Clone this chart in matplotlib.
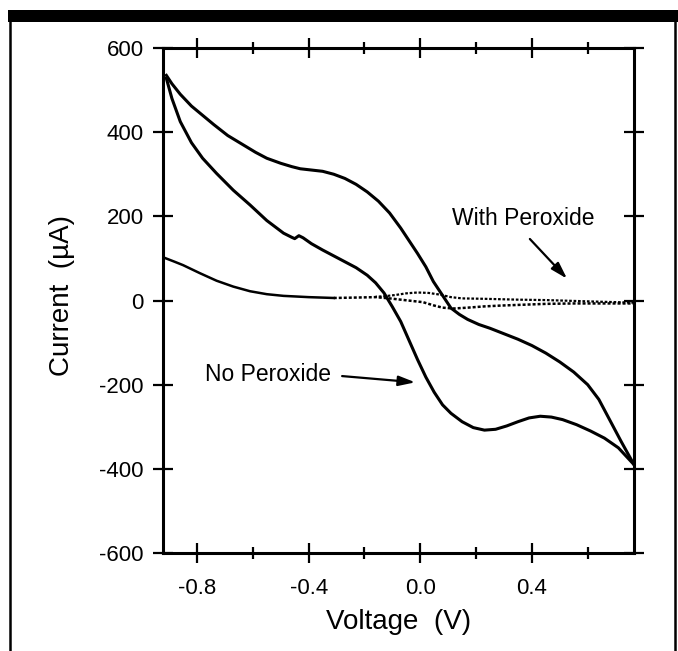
import matplotlib
matplotlib.use("Agg")
from matplotlib import pyplot as plt
from matplotlib.lines import Line2D
from matplotlib.patches import Rectangle

plt.rcParams['font.family'] = ['Liberation Sans', 'DejaVu Sans']
plt.rcParams['axes.unicode_minus'] = False

# No peroxide: cyclic voltammogram, upper and lower branch
v_np_upper = [-0.91, -0.89, -0.86, -0.82, -0.78, -0.74, -0.69, -0.64, -0.59, -0.55,
              -0.50, -0.46, -0.43, -0.39, -0.35, -0.31, -0.27, -0.23, -0.19, -0.15,
              -0.11, -0.07, -0.04, -0.01, 0.02, 0.047, 0.08, 0.11, 0.14, 0.17,
              0.21, 0.25, 0.30, 0.35, 0.40, 0.45, 0.50, 0.55, 0.60, 0.64,
              0.68, 0.72, 0.766]
i_np_upper = [535, 515, 490, 462, 440, 418, 392, 372, 352, 338,
              326, 318, 313, 310, 307, 300, 290, 276, 258, 236,
              208, 172, 142, 112, 80, 45, 12, -18, -33, -45,
              -57, -66, -79, -92, -107, -125, -146, -170, -200, -235,
              -285, -335, -390]

v_np_lower = [-0.91, -0.89, -0.86, -0.82, -0.78, -0.73, -0.67, -0.61, -0.55, -0.49,
              -0.46, -0.45, -0.435, -0.42, -0.39, -0.35, -0.31, -0.27, -0.23, -0.19,
              -0.16, -0.13, -0.10, -0.07, -0.04, -0.01, 0.02, 0.05, 0.08, 0.11,
              0.15, 0.19, 0.23, 0.27, 0.31, 0.35, 0.39, 0.43, 0.47, 0.51,
              0.56, 0.61, 0.66, 0.71, 0.766]
i_np_lower = [528, 480, 425, 375, 338, 302, 262, 227, 190, 160,
              150, 147, 154, 149, 135, 120, 106, 92, 78, 60,
              42, 18, -15, -50, -95, -140, -182, -218, -248, -268,
              -288, -302, -308, -306, -298, -288, -279, -275, -277, -283,
              -295, -310, -327, -350, -390]

# With peroxide
v_wp_left = [-0.915, -0.88, -0.85, -0.79, -0.73, -0.67, -0.61, -0.55, -0.49, -0.40, -0.31]
i_wp_left = [101, 92, 84, 65, 47, 33, 22, 15, 11, 8, 6]
v_wp_fwd = [-0.31, -0.23, -0.16, -0.11, -0.07, -0.03, 0.01, 0.05, 0.08, 0.12,
            0.17, 0.23, 0.29, 0.37, 0.45, 0.55, 0.65, 0.766]
i_wp_fwd = [6, 7, 8, 5, 2, -1, -4, -12, -17, -19,
            -17, -14, -12, -10, -8, -7, -7, -7]
v_wp_rev = [0.766, 0.65, 0.55, 0.45, 0.35, 0.23, 0.15, 0.11, 0.07, 0.03,
            -0.01, -0.05, -0.09, -0.13, -0.16]
i_wp_rev = [-5, -3, -1, 1, 2, 4, 5, 8, 14, 18,
            19, 17, 13, 10, 9]

x_major = [-0.8, -0.4, 0.0, 0.4]
x_minor = [-0.6, -0.2, 0.2, 0.6]
x_labels = ['-0.8', '-0.4', '0.0', '0.4']
y_major = [-600, -400, -200, 0, 200, 400, 600]

fig = plt.figure(figsize=(6.78, 6.51), dpi=100)
ax = fig.add_axes([0.2404, 0.1505, 0.6947, 0.7758])

lw = 2.2
ax.plot(v_np_upper, i_np_upper, color='black', lw=lw, solid_joinstyle='round')
ax.plot(v_np_lower, i_np_lower, color='black', lw=lw, solid_joinstyle='round')
ax.plot(v_wp_left, i_wp_left, color='black', lw=1.8, solid_joinstyle='round')
ax.plot(v_wp_fwd, i_wp_fwd, color='black', lw=1.8, ls=(0, (1.2, 0.8)))
ax.plot(v_wp_rev, i_wp_rev, color='black', lw=1.6, ls=(0, (1.2, 0.8)))

ax.set_xlim(-0.922, 0.766)
ax.set_ylim(-600, 600)

ax.set_xticks(x_major)
ax.set_xticklabels(x_labels)
ax.set_xticks(x_minor, minor=True)
ax.set_yticks(y_major)
ax.set_yticklabels([str(y) for y in y_major])

ax.tick_params(which='both', direction='inout', top=True, right=True, width=1.6, colors='black')
ax.tick_params(which='major', length=14, labelsize=16, pad=7)
ax.tick_params(which='minor', length=8)
ax.tick_params(axis='x', which='major', pad=11)
for s in ax.spines.values():
    s.set_linewidth(2.2)

ax.set_xlabel('Voltage  (V)', fontsize=20)
ax.set_ylabel('Current  (µA)', fontsize=20)
ax.xaxis.set_label_coords(0.5, -0.137)
ax.xaxis.label.set_va('center')
ax.yaxis.set_label_coords(-0.214, 0.51)
ax.yaxis.label.set_va('center')

# annotations
ax.text(0.368, 196, 'With Peroxide', fontsize=16.5, ha='center', va='center')
ax.annotate('', xy=(0.533, 47), xytext=(0.386, 151),
            arrowprops=dict(arrowstyle='-|>,head_length=1.0,head_width=0.3', color='black', lw=1.6))
ax.text(-0.544, -175, 'No Peroxide', fontsize=16.5, ha='center', va='center')
ax.annotate('', xy=(-0.008, -195), xytext=(-0.29, -179),
            arrowprops=dict(arrowstyle='-|>,head_length=1.0,head_width=0.3', color='black', lw=1.6))

# scanned page border
fig.add_artist(Rectangle((0.012, 0.966), 0.988, 0.019, transform=fig.transFigure,
                         color='black', lw=0))
fig.add_artist(Line2D([0.0147, 0.0147], [0.0, 0.966], transform=fig.transFigure,
                      color='black', lw=1.8))
fig.add_artist(Line2D([0.9956, 0.9956], [0.0, 0.966], transform=fig.transFigure,
                      color='black', lw=1.8))

fig.savefig('out.png', dpi=100)
